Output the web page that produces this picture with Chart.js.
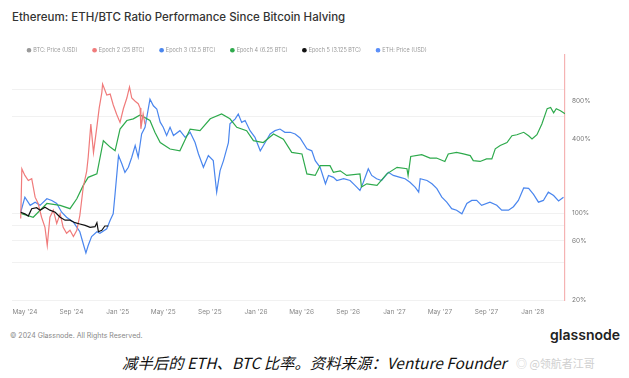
<!DOCTYPE html>
<html>
<head>
<meta charset="utf-8">
<script src="https://cdn.jsdelivr.net/npm/chart.js@4"></script>
<style>
  body { margin: 0; background: #fff; }
  #wrap { position: relative; width: 629px; height: 378px; background: #fff; overflow: hidden; font-family: Inter, "Noto Sans", sans-serif; }
  #title { position: absolute; left: 12px; top: 10px; font-size: 11.5px; font-weight: 500; color: #333; white-space: nowrap; }
  #chartBox { position: absolute; left: 0; top: 32px; width: 629px; height: 288px; }
  #copy { position: absolute; left: 10px; top: 331px; font-size: 7px; color: #888; white-space: nowrap; }
  #brand { position: absolute; right: 9px; top: 326px; font-size: 14px; font-weight: 600; color: #222; }
  #caption { position: absolute; left: 122px; top: 351px; font-size: 15.4px; font-style: italic; color: #111; font-family: "Noto Sans CJK SC", sans-serif; white-space: nowrap; }
  #mark { position: absolute; left: 516px; top: 355px; font-size: 11px; color: #d0d0d0; font-family: "Noto Sans CJK SC", sans-serif; white-space: nowrap; }
</style>
</head>
<body>
<div id="wrap">
  <div id="title">Ethereum: ETH/BTC Ratio Performance Since Bitcoin Halving</div>
  <div id="chartBox"><canvas id="chart"></canvas></div>
  <div id="copy">© 2024 Glassnode. All Rights Reserved.</div>
  <div id="brand">glassnode</div>
  <div id="caption">减半后的 ETH、BTC 比率。资料来源：Venture Founder</div>
  <div id="mark">◎ @领航者江哥</div>
</div>
<script>
// days since halving -> ETH/BTC performance (%)
const epoch2Days = [0,3,11,20,29,38,46,55,64,70,77,86,95,104,112,121,130,139,148,156,165,174,178,185,192,201,207,214,216,227,236,244,253,262,271,280,287,293,302,310,315,317,323,328];
const epoch2Pct = [91,228,202,184,190,135,120,93,77,55,93,106,83,99,77,69,73,65,73,96,163,218,283,524,309,500,705,940,1100,900,915,750,630,541,700,850,1045,850,800,765,705,480,632,520];

const epoch3Days = [0,11,25,38,51,69,82,95,108,121,139,156,167,172,178,187,201,209,227,236,244,249,258,267,275,284,293,302,310,319,328,341,350,359,368,376,385,394,403,420,434,447,460,469,482,495,508,517,526,535,548,552,566,574,583,592,605,618,632,645,658,671,684,697,711,724,737,755,768,777,790,804,812,825,834,852,869,882,895,904,917,926,939,952,970,983,1001,1014,1027,1041,1050,1054,1072,1085,1098,1111,1124,1137,1150,1164,1177,1190,1203,1216,1238,1256,1269,1287,1300,1313,1327,1340,1353,1366,1379,1392,1406,1419,1432];
const epoch3Pct = [102,135,116,123,116,131,127,120,102,93,85,71,54,48,55,65,71,69,75,88,99,144,292,250,214,235,283,352,283,437,494,833,736,694,543,494,424,494,424,464,410,450,372,301,235,292,266,148,221,266,372,526,578,632,541,560,464,410,319,372,436,464,478,450,450,436,405,331,319,266,235,173,202,195,184,190,184,168,153,178,229,202,190,184,214,202,195,190,178,162,148,190,184,173,158,135,123,109,106,99,120,127,127,116,123,116,106,106,113,127,160,159,142,123,127,148,139,126,135];

const epoch4Days = [0,33,69,104,130,148,165,178,201,218,236,249,262,280,297,315,341,354,368,394,420,447,473,500,530,552,570,596,614,640,667,693,715,742,755,777,790,816,825,843,860,895,899,913,940,966,993,1019,1022,1029,1058,1080,1097,1119,1128,1150,1168,1186,1194,1212,1229,1243,1252,1265,1283,1296,1309,1327,1340,1349,1362,1375,1389,1398,1406,1413,1424,1436];
const epoch4Pct = [100,93,120,116,109,131,168,195,208,385,342,319,478,560,578,620,560,450,372,330,319,478,464,578,632,578,494,464,385,372,436,396,310,301,208,202,242,242,214,220,202,208,163,173,168,208,235,229,202,287,297,279,279,262,301,310,301,292,266,262,275,275,331,352,372,422,430,450,422,398,430,525,698,714,645,698,672,635];

const epoch5Days = [0,11,20,29,42,51,64,77,91,104,117,130,143,156,170,183,196,201,205,214,222,231];
const epoch5Pct = [102,99,95,109,111,106,112,106,102,93,88,88,84,82,80,77,78,84,71,73,79,79];

// x ticks: day offsets of month starts after the 2024 halving
const xTickDays = [11,134,256,376,499,621,741,864,986,1106,1229,1351];
const xTickLabels = ["May '24","Sep '24","Jan '25","May '25","Sep '25","Jan '26","May '26","Sep '26","Jan '27","May '27","Sep '27","Jan '28"];

const yTickValues = [20,40,60,80,100,400,600,800,1000];
const yLabelValues = [20,60,100,400,800];
const yGridValues = [20,40,60,80,100,600,1000];

function pts(days, vals) {
  return days.map((d, i) => ({ x: d, y: vals[i] }));
}

function line(label, color, days, vals, order) {
  return {
    label,
    data: days ? pts(days, vals) : [],
    borderColor: color,
    backgroundColor: color,
    borderWidth: 1.2,
    pointRadius: 0,
    tension: 0,
    order
  };
}

// squeeze the legend box so the plot starts just under it
const legendHeight = {
  id: 'legendHeight',
  beforeInit(chart) {
    const fit = chart.legend.fit;
    chart.legend.fit = function() {
      fit.call(this);
      this.height = 23;
    };
  }
};

new Chart(document.getElementById('chart'), {
  type: 'line',
  data: {
    datasets: [
      line('BTC: Price (USD)', '#9a9a9a', null, null, 9),
      line('Epoch 2 (25 BTC)', '#f07b7b', epoch2Days, epoch2Pct, 1),
      line('Epoch 3 (12.5 BTC)', '#4a86ee', epoch3Days, epoch3Pct, 3),
      line('Epoch 4 (6.25 BTC)', '#2eaa4c', epoch4Days, epoch4Pct, 2),
      line('Epoch 5 (3.125 BTC)', '#111111', epoch5Days, epoch5Pct, 0),
      line('ETH: Price (USD)', '#5b8ff9', null, null, 9)
    ]
  },
  options: {
    responsive: true,
    maintainAspectRatio: false,
    animation: false,
    layout: { padding: { left: 12, right: 0, top: 0, bottom: 0 } },
    plugins: {
      tooltip: { enabled: false },
      legend: {
        position: 'top',
        align: 'start',
        labels: {
          usePointStyle: true,
          pointStyle: 'circle',
          boxWidth: 3,
          boxHeight: 2.5,
          padding: 15.5,
          color: '#999',
          font: { size: 5.5, family: 'Inter' },
          sort: (a, b) => a.datasetIndex - b.datasetIndex
        }
      }
    },
    scales: {
      x: {
        type: 'linear',
        min: -23,
        max: 1436,
        grid: { display: false, drawTicks: false },
        border: { display: false },
        afterBuildTicks: s => { s.ticks = xTickDays.map(v => ({ value: v })); },
        afterFit: s => { s.height = 20; },
        ticks: {
          autoSkip: false,
          maxRotation: 0,
          padding: 8,
          color: '#888',
          font: { size: 6.5, family: 'Inter' },
          callback: (v, i) => xTickLabels[i]
        }
      },
      y: {
        type: 'logarithmic',
        position: 'right',
        min: 20,
        max: 1890,
        afterBuildTicks: s => { s.ticks = yTickValues.map(v => ({ value: v })); },
        afterFit: s => { s.width = 64; },
        grid: {
          drawTicks: false,
          color: ctx => ctx.tick && yGridValues.includes(ctx.tick.value) ? '#f1f1f1' : 'rgba(0,0,0,0)'
        },
        border: { display: true, color: '#f5b3b3', width: 1.2 },
        ticks: {
          padding: 7,
          color: '#777',
          font: { size: 6.5, family: 'Inter' },
          callback: v => yLabelValues.includes(v) ? v + '%' : ''
        }
      }
    }
  },
  plugins: [legendHeight]
});
</script>
</body>
</html>
